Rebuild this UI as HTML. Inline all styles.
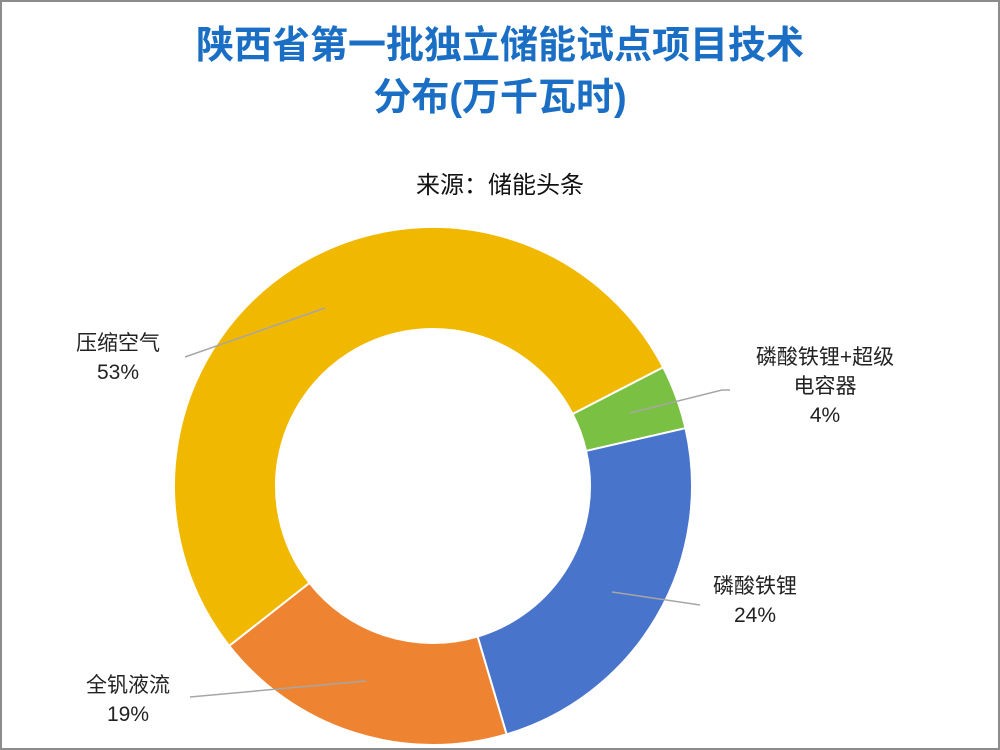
<!DOCTYPE html>
<html><head><meta charset="utf-8"><style>
body{margin:0;width:1000px;height:750px;background:#fff;overflow:hidden;font-family:"Liberation Sans","Noto Sans CJK SC",sans-serif}
#frame{position:absolute;left:0;top:0;width:996px;height:746px;border:2px solid #8c8c8c}
#title{position:absolute;left:0;width:1000px;top:20px;text-align:center;color:#1a6fc4;font-weight:bold;font-size:38px;line-height:52px}
#sub{position:absolute;left:0;width:1000px;top:165px;text-align:center;font-size:24px;color:#111}
svg{position:absolute;left:0;top:0}
</style></head><body>
<div id="frame"></div>
<div id="title">陕西省第一批独立储能试点项目技术<br>分布(万千瓦时)</div>
<div id="sub">来源：储能头条</div>
<svg id="chart" width="1000" height="750"></svg>
<script>
const categories=["磷酸铁锂+超级电容器","磷酸铁锂","全钒液流","压缩空气"];
const values=[4,24,19,53];
const colors=["#7ac143","#4874cb","#ee8431","#f1b800"];
const cx=433,cy=486,R=259,r=157,start=62.7;
const labels=[
 {lines:["磷酸铁锂+超级","电容器","4%"],x:825,y:364,lx1:630,ly1:413,lx2:722,ly2:390,lx3:730,ly3:390},
 {lines:["磷酸铁锂","24%"],x:755,y:593,lx1:612,ly1:592,lx2:700,ly2:605},
 {lines:["全钒液流","19%"],x:128,y:692,lx1:366,ly1:681,lx2:190,ly2:697},
 {lines:["压缩空气","53%"],x:118,y:350,lx1:325,ly1:308,lx2:185,ly2:357}
];
const svg=document.getElementById('chart');const NS="http://www.w3.org/2000/svg";
const total=values.reduce((a,b)=>a+b,0);
function pt(deg,rad){const a=deg*Math.PI/180;return [cx+rad*Math.sin(a),cy-rad*Math.cos(a)];}
let ang=start;
values.forEach((v,i)=>{
 const sweep=v/total*360,a0=ang,a1=ang+sweep;ang=a1;
 const [x0,y0]=pt(a0,R),[x1,y1]=pt(a1,R),[x2,y2]=pt(a1,r),[x3,y3]=pt(a0,r);
 const lg=sweep>180?1:0;
 const p=document.createElementNS(NS,'path');
 p.setAttribute('d',`M${x0},${y0}A${R},${R} 0 ${lg} 1 ${x1},${y1}L${x2},${y2}A${r},${r} 0 ${lg} 0 ${x3},${y3}Z`);
 p.setAttribute('fill',colors[i]);p.setAttribute('stroke','#fff');p.setAttribute('stroke-width','2');
 
 
 svg.appendChild(p);
});
labels.forEach((L,i)=>{
 const pl=document.createElementNS(NS,'polyline');
 let pts=`${L.lx1},${L.ly1} ${L.lx2},${L.ly2}`;if(L.lx3)pts+=` ${L.lx3},${L.ly3}`;
 pl.setAttribute('points',pts);pl.setAttribute('fill','none');pl.setAttribute('stroke','#a6a6a6');pl.setAttribute('stroke-width','1.5');
 
 
 svg.appendChild(pl);
 const t=document.createElementNS(NS,'text');
 t.setAttribute('text-anchor','middle');t.setAttribute('font-size','21');t.setAttribute('fill','#222');
 t.setAttribute('font-family','"Liberation Sans","Noto Sans CJK SC",sans-serif');
 
 
 const pct=Math.round(values[i]/total*100)+'%';
 const lines=L.lines.slice(0,-1).concat([pct]);
 lines.forEach((s,j)=>{const ts=document.createElementNS(NS,'tspan');ts.setAttribute('x',L.x);ts.setAttribute('y',L.y+j*29);ts.textContent=s;t.appendChild(ts);});
 svg.appendChild(t);
});
</script>
</body></html>
